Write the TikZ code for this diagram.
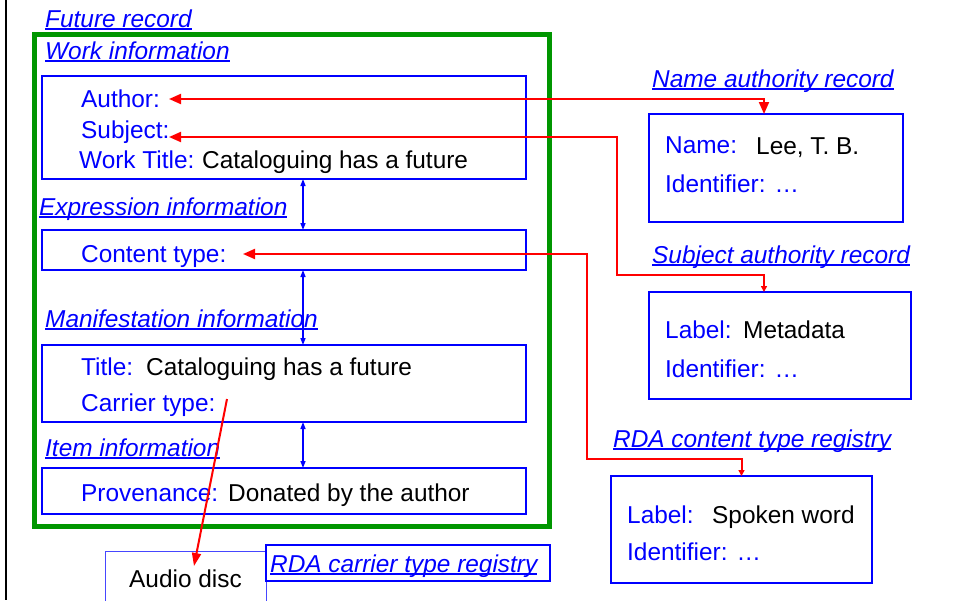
\documentclass[tikz,border=0pt]{standalone}
\usepackage{fontspec}
\setmainfont{Liberation Sans}
\usetikzlibrary{arrows.meta}

\definecolor{rblue}{RGB}{0,0,255}
\definecolor{lblue}{RGB}{70,70,255}
\definecolor{rred}{RGB}{255,0,0}
\definecolor{rgreen}{RGB}{0,150,0}

% underlined heading text: rule just under the baseline, crossing descenders
\newsavebox\ulbox
\newcommand\ulabel[1]{\sbox\ulbox{#1}\rlap{\rule[-2.8pt]{\wd\ulbox}{1.4pt}}\usebox\ulbox}

\begin{document}
\begin{tikzpicture}[x=1pt, y=-1pt,
  font=\fontsize{24.4}{29}\selectfont,
  fld/.style={anchor=base west, inner sep=0, text=rblue},
  val/.style={anchor=base west, inner sep=0, text=black},
  head/.style={anchor=base west, inner sep=0, text=rblue,
               font=\fontsize{24.4}{29}\selectfont\itshape},
  recbox/.style={draw=rblue, line width=2pt, anchor=north west,
                 inner sep=0, outer sep=0},
  rline/.style={draw=rred, line width=2pt},
  bline/.style={draw=rblue, line width=1.5pt,
                {Triangle[length=7pt,width=5pt]}-{Triangle[length=7pt,width=5pt]}},
  bighead/.tip={Triangle[length=12pt,width=10pt]},
  smallhead/.tip={Triangle[length=6pt,width=6pt]}
]
\clip (0,0) rectangle (974,600);
\fill[white] (0,0) rectangle (974,600);

% left page rule
\draw[line width=1.2pt] (6,0) -- (6,600);

% ---- the record ----
\node[head] (hFuture) at (45,27) {\ulabel{Future record}};
\node[draw=rgreen, line width=5pt, anchor=north west, inner sep=0, outer sep=0,
      minimum width=515pt, minimum height=492pt] (future) at (34.5,34.5) {};

\node[head] (hWork) at (45,59) {\ulabel{Work information}};
\node[recbox, minimum width=484pt, minimum height=103pt] (workBox) at (42,76) {};
\node[fld] (author) at (81,107) {Author:};
\node[fld] (subject) at (81,138) {Subject:};
\node[fld] (wtitle) at (79,168) {Work Title:};
\node[val] (wtitleV) at (202,168) {Cataloguing has a future};

\node[head] (hExpr) at (39,215) {\ulabel{Expression information}};
\node[recbox, minimum width=484pt, minimum height=40pt] (exprBox) at (42,230) {};
\node[fld] (content) at (81,262) {Content type:};

\node[head] (hMan) at (45,327) {\ulabel{Manifestation information}};
\node[recbox, minimum width=484pt, minimum height=77pt] (manBox) at (42,345) {};
\node[fld] (mtitle) at (81,375) {Title:};
\node[val] (mtitleV) at (146,375) {Cataloguing has a future};
\node[fld] (carrier) at (81,411) {Carrier type:};

\node[head] (hItem) at (45,456) {\ulabel{Item information}};
\node[recbox, minimum width=484pt, minimum height=46pt] (itemBox) at (42,468) {};
\node[fld] (prov) at (81,501) {Provenance:};
\node[val] (provV) at (228,501) {Donated by the author};

% links between the levels
\draw[bline] ([xshift=19pt]workBox.south) -- ([xshift=19pt]exprBox.north);
\draw[bline] ([xshift=19pt]exprBox.south) -- ([xshift=19pt]manBox.north);
\draw[bline] ([xshift=19pt]manBox.south) -- ([xshift=19pt]itemBox.north);

% ---- carrier type registry ----
\node[draw=lblue, line width=1pt, anchor=north west, inner sep=0, outer sep=0,
      minimum width=161pt, minimum height=56pt, text=black] (audioBox) at (105,551) {Audio disc};
\node[draw=rblue, line width=1.5pt, anchor=north west, inner sep=0, outer sep=0,
      minimum width=284pt, minimum height=36pt, fill=white] (carrierReg) at (266,545) {};
\node[head] (hCarrier) at (270,572) {\ulabel{RDA carrier type registry}};

% ---- authority records ----
\node[head] (hName) at (652,87) {\ulabel{Name authority record}};
\node[recbox, minimum width=254pt, minimum height=108pt] (nameBox) at (649,114) {};
\node[fld] (nameL) at (665,153) {Name:};
\node[val] (nameV) at (756,154) {Lee, T. B.};
\node[fld] (nameId) at (665,192) {Identifier: …};

\node[head] (hSubj) at (652,263) {\ulabel{Subject authority record}};
\node[recbox, minimum width=262pt, minimum height=107pt] (subjBox) at (649,292) {};
\node[fld] (subjL) at (665,338) {Label:};
\node[val] (subjV) at (743,338) {Metadata};
\node[fld] (subjId) at (665,377) {Identifier: …};

\node[head] (hCont) at (613,447) {\ulabel{RDA content type registry}};
\node[recbox, minimum width=261pt, minimum height=107pt] (contBox) at (611,476) {};
\node[fld] (contL) at (627,523) {Label:};
\node[val] (contV) at (712,523) {Spoken word};
\node[fld] (contId) at (627,560) {Identifier: …};

% ---- red links from fields to registries ----
\coordinate (authorEnd) at (169,99);
\coordinate (subjectEnd) at (169,137);
\coordinate (contentEnd) at (243,254);
\coordinate (carrierEnd) at (227,399);

\draw[rline, bighead-bighead] (authorEnd) -| ([xshift=-12pt]nameBox.north);
\draw[rline, bighead-smallhead] (subjectEnd) -| (617,275) -| ([xshift=-16pt]subjBox.north);
\draw[rline, bighead-smallhead] (contentEnd) -| (587,459) -| (contBox.north);
\draw[rline, -{Triangle[length=13pt,width=9pt]}] (carrierEnd) -- ([xshift=8.5pt,yshift=-15pt]audioBox.north);
\end{tikzpicture}
\end{document}
